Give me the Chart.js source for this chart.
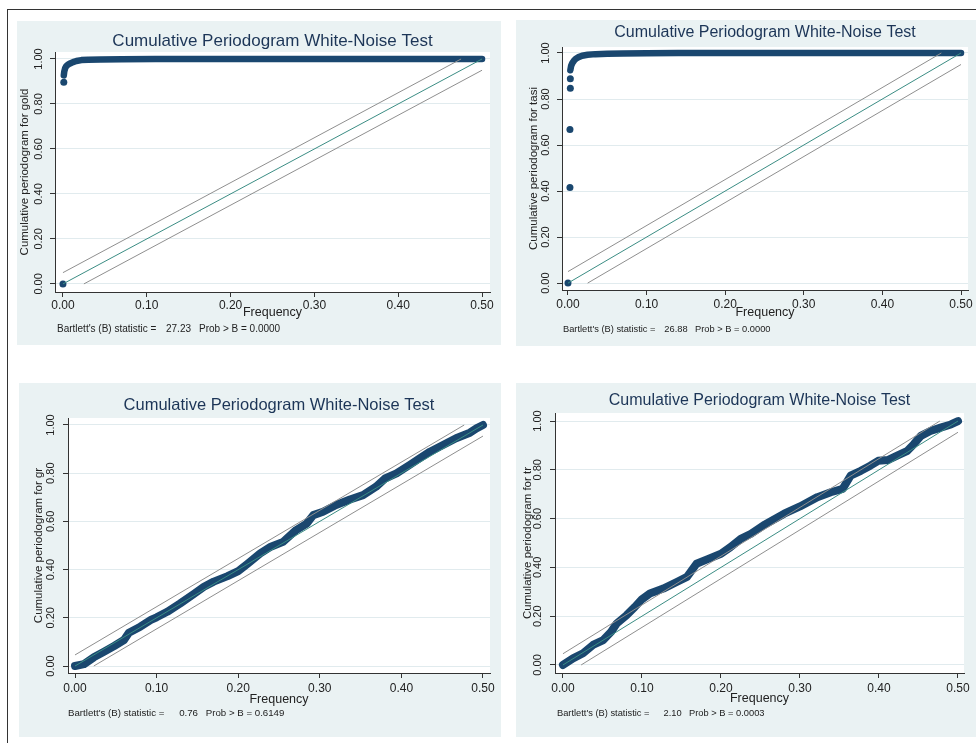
<!DOCTYPE html>
<html>
<head>
<meta charset="utf-8">
<title>Cumulative Periodogram White-Noise Test</title>
<script src="https://cdn.jsdelivr.net/npm/chart.js@4.4.0/dist/chart.umd.min.js"></script>
<style>
  body { margin: 0; background: #fff; width: 976px; height: 743px; overflow: hidden; position: relative; }
  .frame { position: absolute; left: 7px; top: 9px; width: 990px; height: 760px; border-left: 1px solid #333; border-top: 1px solid #333; }
  .panel { position: absolute; background: #eaf2f3; }
</style>
</head>
<body>
<div class="frame"></div>
<div class="panel" style="left:17px;top:21px;width:484px;height:324px"><canvas id="c1"></canvas></div>
<div class="panel" style="left:516px;top:20px;width:460px;height:326px"><canvas id="c2"></canvas></div>
<div class="panel" style="left:19px;top:383px;width:482px;height:354px"><canvas id="c3"></canvas></div>
<div class="panel" style="left:516px;top:383px;width:460px;height:354px"><canvas id="c4"></canvas></div>

<script>
// Tick labels
const xTicks = [0, 0.1, 0.2, 0.3, 0.4, 0.5];
const yTicks = [0, 0.2, 0.4, 0.6, 0.8, 1.0];

// White-noise reference line and confidence band
const refX = [0, 0.5];
const refY = [0, 1];
const bandHiXTop = [0, 0.475];
const bandHiYTop = [0.05, 1];
const bandLoXTop = [0.025, 0.5];
const bandLoYTop = [0, 0.95];
const bandHiXBottom = [0, 0.477];
const bandHiYBottom = [0.046, 1];
const bandLoXBottom = [0.023, 0.5];
const bandLoYBottom = [0, 0.954];

// gold
const goldIsoFreq = [0, 0.001];
const goldIsoCum = [0, 0.897];
const goldFreq = [0.001, 0.0015, 0.0025, 0.004, 0.006, 0.0085, 0.012, 0.016, 0.022, 0.03, 0.045, 0.07, 0.11, 0.25, 0.5];
const goldCum = [0.927, 0.943, 0.958, 0.968, 0.975, 0.98, 0.986, 0.991, 0.995, 0.997, 0.998, 0.999, 1, 1, 1];

// tasi
const tasiIsoFreq = [0, 0.0025, 0.0025, 0.003, 0.003];
const tasiIsoCum = [0, 0.415, 0.668, 0.847, 0.888];
const tasiFreq = [0.003, 0.004, 0.0055, 0.0075, 0.01, 0.0135, 0.018, 0.025, 0.035, 0.05, 0.07, 0.1, 0.14, 0.25, 0.5];
const tasiCum = [0.925, 0.944, 0.956, 0.966, 0.975, 0.982, 0.988, 0.992, 0.995, 0.997, 0.998, 0.999, 1, 1, 1];

// gr
const grFreq = [0, 0.011, 0.023, 0.0355, 0.048, 0.06, 0.066, 0.08, 0.093, 0.1, 0.113, 0.129, 0.146, 0.158, 0.17, 0.187, 0.2,
  0.211, 0.227, 0.24, 0.255, 0.271, 0.284, 0.292, 0.304, 0.32, 0.337, 0.353, 0.369, 0.38, 0.394, 0.41, 0.422, 0.435,
  0.451, 0.467, 0.484, 0.492, 0.5];
const grCum = [0, 0.008, 0.036, 0.059, 0.083, 0.108, 0.138, 0.163, 0.191, 0.202, 0.225, 0.26, 0.3, 0.329, 0.35, 0.373, 0.394,
  0.423, 0.467, 0.495, 0.515, 0.564, 0.591, 0.626, 0.64, 0.668, 0.691, 0.709, 0.744, 0.778, 0.799, 0.834, 0.861, 0.889,
  0.917, 0.945, 0.968, 0.986, 1.0];

// tr
const trFreq = [0, 0.0127, 0.0254, 0.038, 0.051, 0.061, 0.068, 0.0805, 0.091, 0.0996, 0.11, 0.127, 0.144, 0.157, 0.163, 0.169,
  0.184, 0.2, 0.212, 0.225, 0.238, 0.254, 0.28, 0.3, 0.322, 0.339, 0.354, 0.364, 0.377, 0.389, 0.399, 0.411, 0.423, 0.436,
  0.444, 0.453, 0.465, 0.478, 0.491, 0.5];
const trCum = [0, 0.027, 0.048, 0.082, 0.102, 0.136, 0.17, 0.204, 0.238, 0.268, 0.293, 0.313, 0.34, 0.361, 0.388, 0.415,
  0.435, 0.456, 0.483, 0.517, 0.538, 0.573, 0.62, 0.65, 0.688, 0.708, 0.722, 0.776, 0.796, 0.817, 0.837, 0.84, 0.858, 0.878,
  0.905, 0.939, 0.959, 0.973, 0.986, 1.0];

const FONT = '"Liberation Sans", Arial, sans-serif';
const navy = '#1a476f';
const Y_AXIS_W = 26;

// Plot region fill and the Stata-style texts around it
const stataText = {
  id: 'stataText',
  beforeDraw(chart) {
    const { ctx, chartArea: a } = chart;
    ctx.save();
    ctx.fillStyle = '#fff';
    ctx.fillRect(a.left, a.top, a.right - a.left, a.bottom - a.top);
    ctx.restore();
  },
  afterDraw(chart, args, o) {
    const { ctx, chartArea: a } = chart;
    const cx = (a.left + a.right) / 2;
    ctx.save();
    ctx.textBaseline = 'middle';
    ctx.textAlign = 'center';

    ctx.fillStyle = '#1c3557';
    ctx.font = o.titleSize + 'px ' + FONT;
    ctx.fillText('Cumulative Periodogram White-Noise Test', cx, a.top - o.titleGap);

    ctx.fillStyle = '#222';
    ctx.font = '12.5px ' + FONT;
    ctx.fillText('Frequency', cx, a.bottom + o.xTitleGap);

    ctx.save();
    ctx.translate(a.left - o.yTitleGap, (a.top + a.bottom) / 2);
    ctx.rotate(-Math.PI / 2);
    ctx.font = '11.5px ' + FONT;
    ctx.fillText(o.yTitle, 0, 0);
    ctx.restore();

    const s = o.noteSize;
    const x0 = a.left + o.noteIndent;
    const y0 = a.bottom + o.noteGap;
    ctx.font = s + 'px ' + FONT;
    ctx.textAlign = 'left';
    ctx.fillText("Bartlett's (B) statistic =", x0, y0);
    ctx.textAlign = 'right';
    ctx.fillText(o.stat, x0 + 13.4 * s, y0);
    ctx.textAlign = 'left';
    ctx.fillText('Prob > B = ' + o.prob, x0 + 14.2 * s, y0);
    ctx.restore();
  }
};

function pts(xs, ys) {
  return xs.map((x, i) => ({ x: x, y: ys[i] }));
}

function makeDatasets(p) {
  const line = { showLine: true, pointRadius: 0, borderWidth: 1, fill: false };
  return [
    Object.assign({ data: pts(refX, refY), borderColor: '#3b8d84' }, line),
    Object.assign({ data: pts(p.hiX, p.hiY), borderColor: '#8f8f8f' }, line),
    Object.assign({ data: pts(p.loX, p.loY), borderColor: '#8f8f8f' }, line),
    {
      data: pts(p.freq, p.cum), showLine: true, pointRadius: 0, borderWidth: p.bandWidth,
      borderColor: navy, borderCapStyle: 'round', borderJoinStyle: 'round', fill: false
    },
    {
      data: pts(p.isoFreq, p.isoCum), showLine: false, pointRadius: 3.5,
      backgroundColor: navy, borderColor: navy, borderWidth: 0
    }
  ];
}

function makeScales(p) {
  return {
    x: {
      type: 'linear', min: p.xMin, max: p.xMax,
      afterBuildTicks: s => { s.ticks = xTicks.map(v => ({ value: v })); },
      afterFit: s => { s.height = 20; },
      ticks: {
        autoSkip: false, maxRotation: 0, minRotation: 0, padding: p.xPad, color: '#222',
        font: { family: FONT, size: 12 }, callback: v => v.toFixed(2)
      },
      grid: { drawOnChartArea: false, drawTicks: true, tickLength: 5, tickColor: '#333' },
      border: { color: '#333', width: 1 }
    },
    y: {
      type: 'linear', min: p.yMin, max: p.yMax,
      afterBuildTicks: s => { s.ticks = yTicks.map(v => ({ value: v })); },
      afterFit: s => { s.width = Y_AXIS_W; },
      ticks: {
        autoSkip: false, minRotation: 90, maxRotation: 90, crossAlign: 'center', padding: p.yPad,
        color: '#222', font: { family: FONT, size: 11 }, callback: v => v.toFixed(2)
      },
      grid: { color: '#e1ebee', lineWidth: 1, tickLength: 5, tickColor: '#333' },
      border: { color: '#333', width: 1 }
    }
  };
}

function createPanel(id, p) {
  const pad = Object.assign({}, p.padding);
  pad.left = p.padding.left - Y_AXIS_W;
  return new Chart(document.getElementById(id), {
    type: 'scatter',
    data: { datasets: makeDatasets(p) },
    plugins: [stataText],
    options: {
      responsive: true,
      maintainAspectRatio: false,
      animation: false,
      events: [],
      layout: { padding: pad },
      scales: makeScales(p),
      plugins: {
        legend: { display: false },
        tooltip: { enabled: false },
        stataText: p.text
      }
    }
  });
}

// padding.left is the distance from the panel edge to the y axis line
createPanel('c1', {
  freq: goldFreq, cum: goldCum, isoFreq: goldIsoFreq, isoCum: goldIsoCum,
  hiX: bandHiXTop, hiY: bandHiYTop, loX: bandLoXTop, loY: bandLoYTop, bandWidth: 6.5,
  xMin: -0.0095, xMax: 0.5095, yMin: -0.036, yMax: 1.031, xPad: 1, yPad: 0,
  padding: { left: 38, top: 31, right: 11, bottom: 33 },
  text: { titleSize: 17, titleGap: 11, xTitleGap: 21, yTitleGap: 30, yTitle: 'Cumulative periodogram for gold',
    noteSize: 10, noteIndent: 2, noteGap: 37, stat: '27.23', prob: '0.0000' }
});

createPanel('c2', {
  freq: tasiFreq, cum: tasiCum, isoFreq: tasiIsoFreq, isoCum: tasiIsoCum,
  hiX: bandHiXTop, hiY: bandHiYTop, loX: bandLoXTop, loY: bandLoYTop, bandWidth: 6.5,
  xMin: -0.0076, xMax: 0.5089, yMin: -0.030, yMax: 1.026, xPad: 2, yPad: 0,
  padding: { left: 46, top: 27, right: 8, bottom: 36 },
  text: { titleSize: 16, titleGap: 14, xTitleGap: 23, yTitleGap: 28, yTitle: 'Cumulative periodogram for tasi',
    noteSize: 9.3, noteIndent: 1, noteGap: 39, stat: '26.88', prob: '0.0000' }
});

createPanel('c3', {
  freq: grFreq, cum: grCum, isoFreq: [], isoCum: [],
  hiX: bandHiXBottom, hiY: bandHiYBottom, loX: bandLoXBottom, loY: bandLoYBottom, bandWidth: 8,
  xMin: -0.0086, xMax: 0.5086, yMin: -0.029, yMax: 1.029, xPad: 3, yPad: 1,
  padding: { left: 49, top: 35, right: 11, bottom: 44 },
  text: { titleSize: 16.5, titleGap: 13, xTitleGap: 27, yTitleGap: 29, yTitle: 'Cumulative periodogram for gr',
    noteSize: 9.7, noteIndent: 0, noteGap: 40, stat: '0.76', prob: '0.6149' }
});

createPanel('c4', {
  freq: trFreq, cum: trCum, isoFreq: [], isoCum: [],
  hiX: bandHiXBottom, hiY: bandHiYBottom, loX: bandLoXBottom, loY: bandLoYBottom, bandWidth: 8,
  xMin: -0.0101, xMax: 0.5076, yMin: -0.033, yMax: 1.033, xPad: 3, yPad: 1,
  padding: { left: 39, top: 30, right: 12, bottom: 44 },
  text: { titleSize: 16, titleGap: 12, xTitleGap: 26, yTitleGap: 27, yTitle: 'Cumulative periodogram for tr',
    noteSize: 9.3, noteIndent: 2, noteGap: 40, stat: '2.10', prob: '0.0003' }
});
</script>
</body>
</html>
